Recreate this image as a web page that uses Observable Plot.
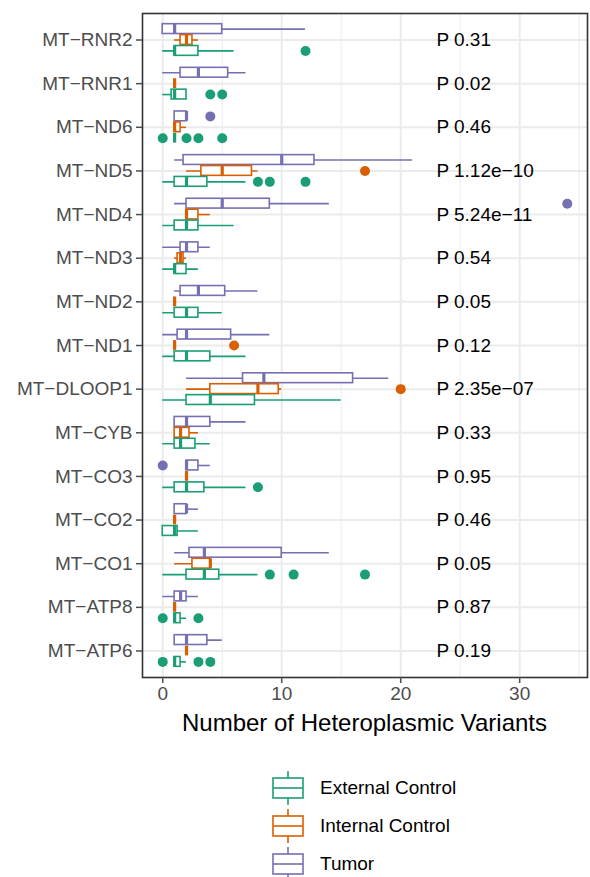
<!DOCTYPE html>
<html><head><meta charset="utf-8">
<script src="https://cdn.jsdelivr.net/npm/d3@7"></script>
<script src="https://cdn.jsdelivr.net/npm/@observablehq/plot@0.6"></script>
<style>
body{margin:0;background:#fff;font-family:"Liberation Sans",Arial,sans-serif;}
#xtitle{height:36px;line-height:36px;font-size:24px;color:#000;text-align:center;padding-left:142px;padding-right:3px;box-sizing:border-box;width:590px;}
#legend{margin-top:28px;margin-left:272px;}
.item{display:flex;align-items:center;height:38px;font-size:19px;color:#000;}
.item svg{margin-right:16px;}
</style></head><body>
<div id="chart"></div>
<div id="xtitle">Number of Heteroplasmic Variants</div>
<div id="legend"></div>
<script>
const genes = ["MT-RNR2","MT-RNR1","MT-ND6","MT-ND5","MT-ND4","MT-ND3","MT-ND2","MT-ND1","MT-DLOOP1","MT-CYB","MT-CO3","MT-CO2","MT-CO1","MT-ATP8","MT-ATP6"];
const groups = ["Tumor","Internal Control","External Control"];
const legendOrder = ["External Control","Internal Control","Tumor"];
const groupColors = ["#1b9e77","#d95f02","#7570b3"];
const pValues = ["0.31","0.02","0.46","1.12e-10","5.24e-11","0.54","0.05","0.12","2.35e-07","0.33","0.95","0.46","0.05","0.87","0.19"];
const pX = 23;
const xTicks = [0,10,20,30];
const xMinor = [5,15,25,35];

// [lower whisker, q1, median, q3, upper whisker]
const tumorStats = [
  [0,0,1,5,12],[0,1.5,3,5.5,7],[1,1,2,2,2],[1,1.75,10,12.75,21],[1,2,5,9,14],
  [0,1.5,2,3,4],[1,1.5,3,5.25,8],[0,1.25,2,5.75,9],[2,6.75,8.5,16,19],[1,1,2,4,7],
  [2,2,2,3,4],[1,1,2,2,3],[1,2.25,3.5,10,14],[0,1,1.5,2,3],[1,1,2,3.75,5]
];
const internalStats = [
  [1,1.5,2,2.5,3],[1,1,1,1,1],[1,1,1,1.5,2],[2,3.25,5,7.5,8],[2,2,2,3,4],
  [1,1.25,1.5,1.75,2],[1,1,1,1,1],[1,1,1,1,1],[2,4,8,9.75,10],[1,1,1.5,2.25,3],
  [2,2,2,2,2],[1,1,1,1,1],[1,2.5,4,4,4],[1,1,1,1,1],[2,2,2,2,2]
];
const externalStats = [
  [0,1,1,3,6],[0,0.75,1,2,2],[1,1,1,1,1],[0,1,2,3.75,7],[0,1,2,3,6],
  [0,1,1,2,3],[0,1,2,3,5],[0,1,2,4,7],[0,2,4,7.75,15],[0,1,1.5,2.75,4],
  [0,1,2,3.5,7],[0,0,1,1.25,3],[0,2,3.5,4.75,8],[1,1,1,1.5,2],[1,1,1,1.5,2]
];
const tumorOutliers = [[],[],[4],[],[34],[],[],[],[],[],[0],[],[],[],[]];
const internalOutliers = [[],[],[],[17],[],[],[],[6],[20],[],[],[],[],[],[]];
const externalOutliers = [[12],[4,5],[0,2,3,5],[8,9,12],[],[],[],[],[],[],[8],[],[9,11,17],[0,3],[0,3,4]];

const statsBy = {"Tumor": tumorStats, "Internal Control": internalStats, "External Control": externalStats};
const outBy = {"Tumor": tumorOutliers, "Internal Control": internalOutliers, "External Control": externalOutliers};

const keyOf = (g, grp) => g + "|" + grp;
const yDomain = [];
genes.forEach((g, i) => {
  groups.forEach(grp => yDomain.push(keyOf(g, grp)));
  if (i < genes.length - 1) yDomain.push(g + "|gap");
});
const centers = genes.map(g => keyOf(g, "Internal Control"));

const boxes = [];
const outliers = [];
genes.forEach((g, i) => {
  groups.forEach(grp => {
    const [lo, q1, med, q3, hi] = statsBy[grp][i];
    boxes.push({gene: g, group: grp, key: keyOf(g, grp), lo, q1, med, q3, hi});
    outBy[grp][i].forEach(v => outliers.push({gene: g, group: grp, key: keyOf(g, grp), value: v}));
  });
});
const minus = s => s.replace(/-/g, "\u2212");

const chart = Plot.plot({
  width: 590,
  height: 705,
  marginLeft: 142,
  marginRight: 3,
  marginTop: 13,
  marginBottom: 28,
  style: {fontFamily: "'Liberation Sans', Arial, sans-serif", background: "white"},
  x: {domain: [-1.7, 35.7]},
  y: {type: "band", domain: yDomain, paddingInner: 0.1, paddingOuter: 0.98, round: false},
  color: {domain: legendOrder, range: groupColors},
  marks: [
    Plot.gridX(xMinor, {stroke: "#ebebeb", strokeOpacity: 1, strokeWidth: 1}),
    Plot.gridX(xTicks, {stroke: "#ebebeb", strokeOpacity: 1, strokeWidth: 2}),
    Plot.ruleY(centers, {y: d => d, stroke: "#ebebeb", strokeWidth: 2}),
    Plot.ruleY(boxes, {y: "key", x1: "lo", x2: "hi", stroke: "group", strokeWidth: 1.6}),
    Plot.barX(boxes, {y: "key", x1: "q1", x2: "q3", fill: "white", stroke: "group", strokeWidth: 1.6}),
    Plot.tickX(boxes, {x: "med", y: "key", stroke: "group", strokeWidth: 3.2}),
    Plot.dot(outliers, {x: "value", y: "key", fill: "group", r: 5}),
    Plot.text(genes, {x: () => pX, y: g => keyOf(g, "Internal Control"), text: (g, i) => "P " + minus(pValues[i]), textAnchor: "start", fontSize: 19, fill: "black"}),
    Plot.frame({stroke: "#333333", strokeWidth: 1.6}),
    Plot.axisX({ticks: xTicks, tickSize: 6, tickPadding: 3, fontSize: 19, color: "#4d4d4d", strokeWidth: 1.5, label: null}),
    Plot.axisY({ticks: centers, tickFormat: k => minus(k.split("|")[0]), tickSize: 6, tickPadding: 4, fontSize: 19, color: "#4d4d4d", strokeWidth: 1.5, label: null})
  ]
});
document.getElementById("chart").appendChild(chart);

const legend = document.getElementById("legend");
legendOrder.forEach((grp, i) => {
  const c = groupColors[i];
  const item = document.createElement("div");
  item.className = "item";
  item.innerHTML = `<svg width="32" height="34" viewBox="0 0 32 34">
    <line x1="16" x2="16" y1="0" y2="7" stroke="${c}" stroke-width="1.6"/>
    <line x1="16" x2="16" y1="27" y2="34" stroke="${c}" stroke-width="1.6"/>
    <rect x="1" y="7" width="30" height="20" fill="white" stroke="${c}" stroke-width="1.6"/>
    <line x1="1" x2="31" y1="17" y2="17" stroke="${c}" stroke-width="1.6"/>
  </svg><span>${grp}</span>`;
  legend.appendChild(item);
});
</script>
</body></html>
